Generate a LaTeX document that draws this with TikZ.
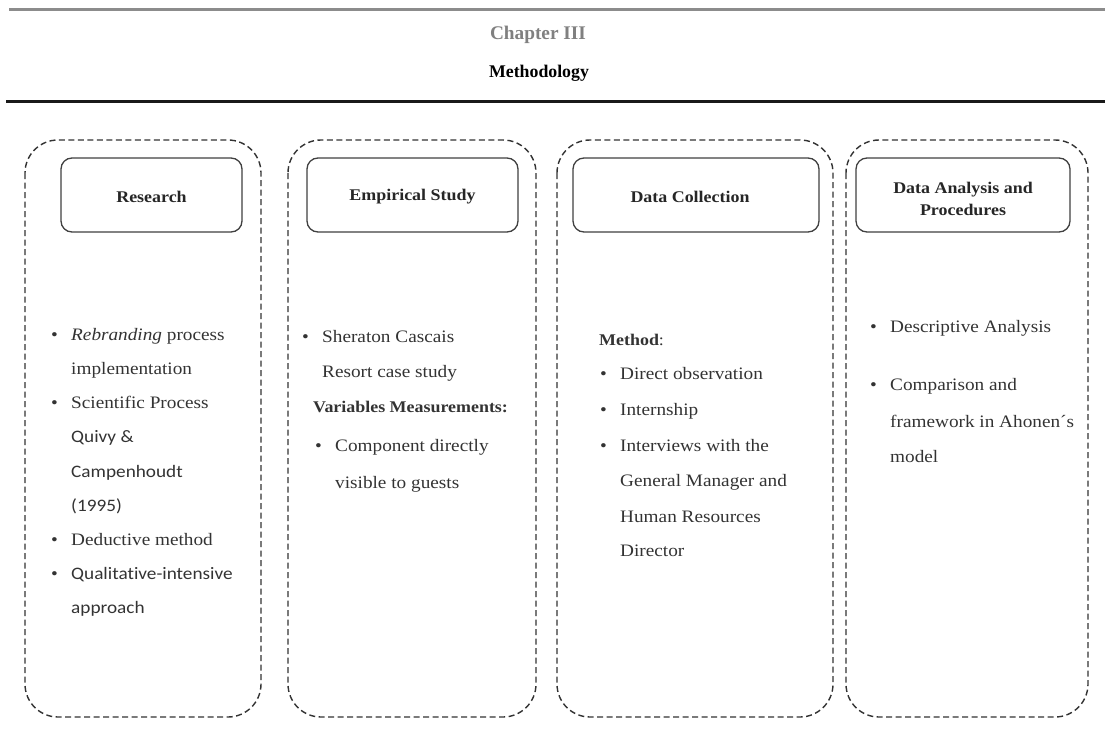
\documentclass[tikz,border=0pt]{standalone}
\usepackage{fontspec}
\setmainfont{Liberation Serif}[FakeStretch=1.1]
\newfontfamily\calib{Carlito}[FakeStretch=1.1,Ligatures=NoCommon]
\newfontfamily\headfont{Liberation Serif}
\newcommand\bul{\makebox[20pt][l]{•}}
\begin{document}
\begin{tikzpicture}[x=1pt,y=-1pt,
  lane/.style={draw=black!80,line width=1.4pt,dash pattern=on 6pt off 3.5pt,rounded corners=33pt},
  head/.style={draw=black!75,line width=1.3pt,rounded corners=11pt,fill=white},
  htext/.style={font=\fontsize{16.3}{22}\selectfont\bfseries,text=black!85,align=center,inner sep=0pt},
  item/.style={anchor=base west,inner sep=0pt,font=\fontsize{17.5}{20}\selectfont,text=black!80},
  citem/.style={item,font=\fontsize{17.5}{20}\calib}
]
\useasboundingbox (0,0) rectangle (1105,731);

% header rules and titles
\draw[black!45,line width=2.6pt] (9,9.5) -- (1105,9.5);
\draw[black!90,line width=2.4pt] (6,101.5) -- (1105,101.5);
\node[inner sep=0pt,text=black!50,font=\headfont\fontsize{19.3}{22}\selectfont\bfseries] (chap) at (538,35) {Chapter III};
\node[inner sep=0pt,text=black,font=\headfont\fontsize{17.8}{22}\selectfont\bfseries] (meth) at (539,73) {Methodology};

% dashed lanes
\draw[lane] (25,140) rectangle (261,717);
\draw[lane] (288,140) rectangle (536,717);
\draw[lane] (557,140) rectangle (833,717);
\draw[lane] (846,140) rectangle (1088,717);

% heading boxes
\draw[head] (61,158) rectangle (242,232);
\draw[head] (307,158) rectangle (518,232);
\draw[head] (573,158) rectangle (819,232);
\draw[head] (856,158) rectangle (1070,232);
\node[htext] (h1) at (151.5,197) {Research};
\node[htext] (h2) at (412.5,197) {Empirical Study};
\node[htext] (h3) at (690,197) {Data Collection};
\node[htext] (h4) at (963,199) {Data Analysis and\\Procedures};

% lane 1
\node[item] (a1) at (51,340) {\bul\textit{Rebranding} process};
\node[item] (a2) at (71,374) {implementation};
\node[item] (a3) at (51,408) {\bul Scientific Process};
\node[citem] (a4) at (71,442) {Quivy \&};
\node[citem] (a5) at (71,477) {Campenhoudt};
\node[citem] (a6) at (71,511) {(1995)};
\node[item] (a7) at (51,545) {\bul Deductive method};
\node[citem] (a8) at (51,579) {{\rmfamily\bul}Qualitative-intensive};
\node[citem] (a9) at (71,613) {approach};

% lane 2
\node[item] (b1) at (302,342) {\bul Sheraton Cascais};
\node[item] (b2) at (322,377) {Resort case study};
\node[item,font=\fontsize{16.3}{20}\selectfont\bfseries] (b3) at (313,412) {Variables Measurements:};
\node[item] (b4) at (315,451) {\bul Component directly};
\node[item] (b5) at (335,488) {visible to guests};

% lane 3
\node[item,font=\fontsize{16.3}{20}\selectfont] (c0) at (599,345) {\textbf{Method}:};
\node[item] (c1) at (600,379) {\bul Direct observation};
\node[item] (c2) at (600,415) {\bul Internship};
\node[item] (c3) at (600,451) {\bul Interviews with the};
\node[item] (c4) at (620,486) {General Manager and};
\node[item] (c5) at (620,522) {Human Resources};
\node[item] (c6) at (620,556) {Director};

% lane 4
\node[item] (d1) at (870,332) {\bul Descriptive Analysis};
\node[item] (d2) at (870,390) {\bul Comparison and};
\node[item] (d3) at (890,427) {framework in Ahonen´s};
\node[item] (d4) at (890,462) {model};
\end{tikzpicture}
\end{document}
